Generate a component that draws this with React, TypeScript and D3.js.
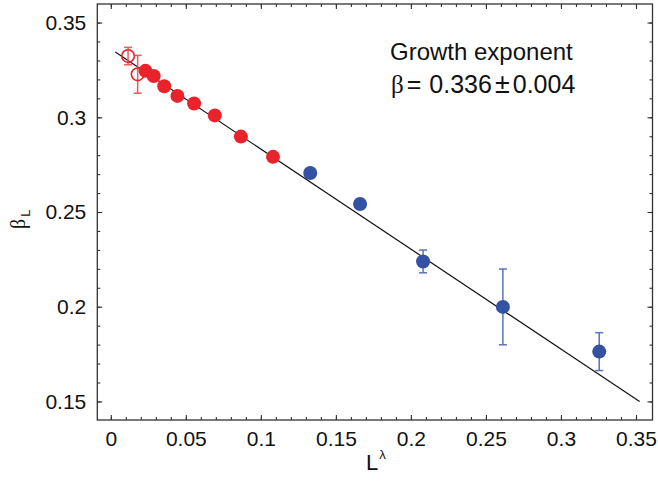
import React, { useEffect, useRef } from 'react'
import * as d3 from 'd3'

// red open circles (smallest sizes)
const openX = [0.0115, 0.0179]
const openY = [0.3323, 0.3227]
const openErr = [0.0046, 0.010]

// red filled circles
const redX = [0.0231, 0.0286, 0.0356, 0.0444, 0.0555, 0.0693, 0.0867, 0.1081]
const redY = [0.3245, 0.3218, 0.3164, 0.3113, 0.3073, 0.3010, 0.2898, 0.2791]

// blue filled circles
const blueX = [0.1329, 0.1661, 0.2081, 0.2613, 0.3255]
const blueY = [0.2706, 0.2542, 0.2239, 0.1999, 0.1763]
const blueErr = [0, 0, 0.006, 0.020, 0.010]

// fitted line beta_L = beta - a * L^lambda
const fitBeta = 0.336
const fitSlope = -0.528
const fitX = [0.003, 0.3524]

const xTicks = [0, 0.05, 0.1, 0.15, 0.2, 0.25, 0.3, 0.35]
const xTickLabels = ['0', '0.05', '0.1', '0.15', '0.2', '0.25', '0.3', '0.35']
const yTicks = [0.15, 0.2, 0.25, 0.3, 0.35]
const yTickLabels = ['0.15', '0.2', '0.25', '0.3', '0.35']

const W = 658
const H = 483
const FONT = 'Liberation Sans, Arial, Helvetica, sans-serif'
const RED = '#e8232b'
const RED_ERR = '#ef5a5e'
const BLUE = '#3451a3'
const BLUE_ERR = '#5a72b9'

export default function App() {
  const ref = useRef<SVGSVGElement>(null)

  useEffect(() => {
    const svg = d3.select(ref.current)
    svg.selectAll('*').remove()

    const x = d3.scaleLinear().domain([-0.009, 0.361]).range([97.3, 652.5])
    const y = d3.scaleLinear().domain([0.1402, 0.3598]).range([420, 4])

    const minorX = d3.range(0, 36).map(i => i / 100)
    const minorY = d3.range(15, 36).map(i => i / 100)

    const styleAxis = (g: any) => {
      g.select('.domain').remove()
      g.selectAll('line').attr('stroke', '#333').attr('stroke-width', 1.1)
      g.selectAll('text')
        .attr('font-family', FONT)
        .attr('font-size', 21)
        .attr('fill', '#111')
    }

    // minor ticks on all four sides
    svg.append('g').attr('transform', 'translate(0,420)')
      .call(d3.axisBottom(x).tickValues(minorX).tickSize(-3).tickFormat(() => ''))
      .call(styleAxis)
    svg.append('g').attr('transform', 'translate(0,4)')
      .call(d3.axisTop(x).tickValues(minorX).tickSize(-3).tickFormat(() => ''))
      .call(styleAxis)
    svg.append('g').attr('transform', 'translate(97.3,0)')
      .call(d3.axisLeft(y).tickValues(minorY).tickSize(-3).tickFormat(() => ''))
      .call(styleAxis)
    svg.append('g').attr('transform', 'translate(652.5,0)')
      .call(d3.axisRight(y).tickValues(minorY).tickSize(-3).tickFormat(() => ''))
      .call(styleAxis)

    // major ticks + labels
    svg.append('g').attr('transform', 'translate(0,420)')
      .call(d3.axisBottom(x).tickValues(xTicks).tickSize(-5).tickPadding(11)
        .tickFormat((_, i) => xTickLabels[i]))
      .call(styleAxis)
    svg.append('g').attr('transform', 'translate(0,4)')
      .call(d3.axisTop(x).tickValues(xTicks).tickSize(-5).tickFormat(() => ''))
      .call(styleAxis)
    svg.append('g').attr('transform', 'translate(97.3,0)')
      .call(d3.axisLeft(y).tickValues(yTicks).tickSize(-5).tickPadding(11)
        .tickFormat((_, i) => yTickLabels[i]))
      .call(styleAxis)
    svg.append('g').attr('transform', 'translate(652.5,0)')
      .call(d3.axisRight(y).tickValues(yTicks).tickSize(-5).tickFormat(() => ''))
      .call(styleAxis)

    // frame
    svg.append('rect')
      .attr('x', 97.3).attr('y', 4)
      .attr('width', 652.5 - 97.3).attr('height', 416)
      .attr('fill', 'none').attr('stroke', '#333').attr('stroke-width', 1.3)

    // fit line
    svg.append('path')
      .datum(fitX)
      .attr('d', d3.line<number>().x(d => x(d)).y(d => y(fitBeta + fitSlope * d)))
      .attr('stroke', '#111').attr('stroke-width', 1.2).attr('fill', 'none')

    const errBars = (xs: number[], ys: number[], es: number[], color: string) => {
      const g = svg.append('g').attr('stroke', color).attr('stroke-width', 1.5)
      xs.forEach((xv, i) => {
        const e = es[i]
        if (!e) return
        const cx = x(xv)
        g.append('line').attr('x1', cx).attr('x2', cx).attr('y1', y(ys[i] - e)).attr('y2', y(ys[i] + e))
        g.append('line').attr('x1', cx - 4).attr('x2', cx + 4).attr('y1', y(ys[i] - e)).attr('y2', y(ys[i] - e))
        g.append('line').attr('x1', cx - 4).attr('x2', cx + 4).attr('y1', y(ys[i] + e)).attr('y2', y(ys[i] + e))
      })
    }

    errBars(openX, openY, openErr, RED_ERR)
    errBars(blueX, blueY, blueErr, BLUE_ERR)

    svg.append('g').selectAll('circle').data(openX).join('circle')
      .attr('cx', d => x(d)).attr('cy', (_, i) => y(openY[i])).attr('r', 6.3)
      .attr('fill', 'none').attr('stroke', RED).attr('stroke-width', 1.6)

    svg.append('g').selectAll('circle').data(redX).join('circle')
      .attr('cx', d => x(d)).attr('cy', (_, i) => y(redY[i])).attr('r', 7)
      .attr('fill', RED)

    svg.append('g').selectAll('circle').data(blueX).join('circle')
      .attr('cx', d => x(d)).attr('cy', (_, i) => y(blueY[i])).attr('r', 7)
      .attr('fill', BLUE)

    // annotation
    svg.append('text').attr('x', 390).attr('y', 60)
      .attr('font-family', FONT).attr('font-size', 24).attr('fill', '#111')
      .text('Growth exponent')
    const t = svg.append('text').attr('x', 391).attr('y', 93)
      .attr('font-family', FONT).attr('font-size', 25).attr('fill', '#111')
    t.append('tspan').attr('font-family', 'Liberation Serif, serif').text('β')
    t.append('tspan').attr('dx', 3).text('=')
    t.append('tspan').attr('dx', 8).text('0.336')
    t.append('tspan').attr('dx', 3).attr('font-size', 27).text('±')
    t.append('tspan').attr('dx', 3).text('0.004')

    // axis titles
    const xl = svg.append('text').attr('x', 366).attr('y', 470)
      .attr('font-family', FONT).attr('font-size', 22).attr('fill', '#111')
    xl.append('tspan').text('L')
    xl.append('tspan').attr('font-size', 13).attr('dy', -11).attr('dx', 1).text('λ')

    const yl = svg.append('text').attr('transform', 'translate(25,229) rotate(-90)')
      .attr('font-family', FONT).attr('font-size', 20).attr('fill', '#111')
    yl.append('tspan').attr('font-family', 'Liberation Serif, serif').text('β')
    yl.append('tspan').attr('font-size', 13).attr('dy', 5).attr('dx', 2).text('L')
  }, [])

  return (
    <svg ref={ref} width={W} height={H}
      style={{ position: 'absolute', left: 0, top: 0, background: '#fff' }} />
  )
}
